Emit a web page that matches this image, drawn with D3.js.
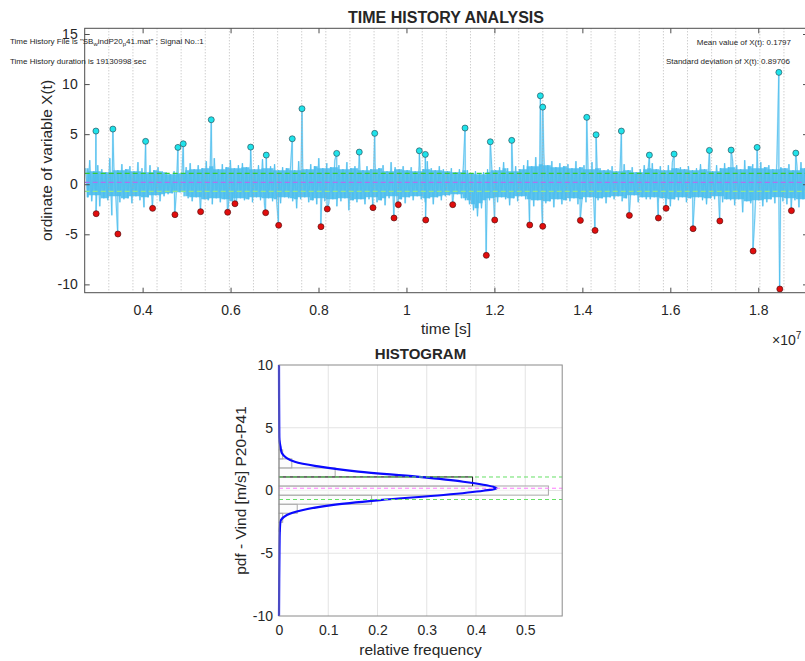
<!DOCTYPE html>
<html>
<head>
<meta charset="utf-8">
<script src="https://cdn.jsdelivr.net/npm/d3@7/dist/d3.min.js"></script>
<style>
  body { margin: 0; background: #fff; }
  svg text { font-family: "Liberation Sans", Arial, Helvetica, sans-serif; fill: #262626; }
</style>
</head>
<body>
<svg id="fig" width="805" height="661"></svg>
<script>
// ---------------- data (time in units of 1e7 s) ----------------
var tStart = 0.2683, tEnd = 1.9131;
var meanX = 0.1797, stdX = 0.89706;

// block boundaries (30 blocks)
var blockEdges = [0.2683, 0.3231, 0.3780, 0.4328, 0.4876, 0.5425, 0.5973, 0.6521, 0.7070, 0.7618,
                  0.8166, 0.8714, 0.9263, 0.9811, 1.0359, 1.0908, 1.1456, 1.2004, 1.2553, 1.3101,
                  1.3649, 1.4198, 1.4746, 1.5294, 1.5843, 1.6391, 1.6939, 1.7488, 1.8036, 1.8584, 1.9131];

// block maxima (cyan) and minima (red)
var maxT = [0.2938, 0.3324, 0.4068, 0.4803, 0.4924, 0.5561, 0.6457, 0.6812, 0.7403, 0.7624,
            0.8413, 0.8927, 0.9278, 1.0292, 1.0429, 1.1332, 1.1907, 1.2394, 1.3045, 1.3099,
            1.4100, 1.4312, 1.4887, 1.5524, 1.6086, 1.6889, 1.7383, 1.7974, 1.8468, 1.8854];
var maxV = [5.31, 5.51, 4.28, 3.68, 4.04, 6.44, 3.71, 2.91, 4.54, 7.54,
            3.08, 3.21, 5.08, 3.34, 2.98, 5.61, 4.24, 4.38, 8.83, 7.70,
            6.68, 4.94, 5.31, 2.91, 3.01, 3.38, 3.41, 3.68, 11.17, 3.11];
var minT = [0.2944, 0.3438, 0.4227, 0.4735, 0.5319, 0.5934, 0.6100, 0.6798, 0.7094, 0.8056,
            0.8199, 0.9239, 0.9717, 0.9814, 1.0438, 1.1052, 1.1816, 1.2007, 1.2803, 1.3099,
            1.3955, 1.4289, 1.5069, 1.5729, 1.5904, 1.6518, 1.7126, 1.7883, 1.8490, 1.8754];
var minV = [-2.94, -4.97, -2.41, -3.04, -2.74, -2.80, -1.95, -2.84, -4.10, -4.24,
            -2.47, -2.34, -3.37, -2.04, -3.57, -2.04, -7.10, -3.57, -4.07, -4.20,
            -3.61, -4.61, -3.11, -3.37, -2.41, -4.44, -3.67, -6.67, -10.46, -2.64];

// signal envelope (upper / lower swing per short slice)
var sigHi = [1.6, 2.4, 1.3, 1.9, 1.5, 1.2, 2.6, 1.7, 1.4, 2.0,
             1.5, 1.8, 1.3, 2.2, 1.6, 1.2, 1.9, 1.4, 1.7, 1.3,
             1.2, 1.0, 1.3, 1.1, 1.4, 1.7, 2.1, 1.5, 1.9, 1.6,
             2.3, 1.8, 2.6, 1.5, 2.0, 1.7, 2.4, 1.6, 1.9, 2.1,
             1.7, 2.2, 1.5, 1.9, 2.5, 1.6, 1.8, 2.0, 1.4, 1.7,
             1.6, 1.9, 1.4, 2.3, 1.7, 1.5, 2.0, 1.8, 2.6, 1.6,
             2.1, 1.7, 2.4, 1.9, 1.5, 2.2, 1.6, 1.8, 2.0, 1.4,
             1.8, 1.5, 2.1, 1.6, 1.9, 1.3, 2.2, 1.7, 1.5, 1.8,
             1.4, 1.7, 1.3, 1.9, 1.5, 2.3, 1.6, 1.4, 1.8, 1.5,
             1.3, 1.6, 1.2, 1.5, 1.9, 1.4, 1.1, 1.3, 1.0, 1.2,
             1.5, 2.0, 1.4, 1.7, 2.2, 1.6, 1.3, 1.8, 1.5, 1.9,
             2.4, 1.8, 2.7, 2.0, 3.1, 1.9, 2.3, 1.7, 2.1, 1.8,
             2.0, 1.6, 2.3, 1.7, 1.9, 1.5, 2.2, 1.8, 1.6, 1.4,
             1.5, 1.8, 1.3, 1.6, 2.0, 1.4, 1.7, 1.2, 1.5, 1.9,
             1.6, 2.1, 1.5, 1.8, 1.4, 1.9, 2.2, 1.6, 1.7, 1.5,
             1.8, 1.4, 1.6, 2.0, 1.5, 1.7, 1.3, 1.9, 1.6, 2.1,
             1.7, 2.3, 1.9, 1.5, 2.4, 1.8, 2.0, 1.6, 2.2, 1.7,
             1.9, 1.5, 2.1, 1.7, 1.6, 2.0, 1.4, 1.8, 2.2, 1.6];
var sigLo = [-1.3, -1.7, -1.1, -2.2, -1.4, -1.6, -3.1, -1.2, -1.8, -1.5,
             -1.4, -1.9, -1.2, -1.6, -2.3, -1.3, -1.5, -1.1, -1.7, -1.2,
             -1.0, -0.9, -1.1, -0.8, -1.2, -1.4, -1.7, -1.3, -2.2, -1.5,
             -1.6, -2.0, -1.4, -1.8, -1.5, -2.3, -1.7, -1.9, -1.4, -1.6,
             -1.5, -1.8, -1.3, -1.6, -2.1, -1.4, -1.7, -1.5, -1.9, -1.3,
             -1.4, -1.7, -2.4, -1.5, -1.3, -1.8, -1.6, -2.0, -1.4, -1.7,
             -1.9, -1.5, -2.2, -1.7, -1.4, -2.6, -1.6, -1.8, -1.5, -2.0,
             -1.5, -1.3, -1.8, -1.6, -2.1, -1.4, -1.2, -1.7, -1.5, -1.9,
             -1.3, -1.6, -1.2, -1.5, -1.8, -1.4, -2.0, -1.3, -1.6, -1.2,
             -1.1, -1.3, -1.0, -1.4, -1.6, -2.0, -2.6, -3.2, -2.4, -1.9,
             -1.6, -1.4, -1.8, -1.3, -1.5, -2.1, -1.4, -1.7, -1.2, -1.5,
             -1.8, -2.2, -1.6, -2.5, -1.9, -1.7, -2.3, -1.5, -2.0, -1.6,
             -1.7, -1.4, -2.0, -1.5, -1.8, -1.3, -2.2, -1.6, -1.4, -1.9,
             -1.3, -1.5, -1.2, -1.7, -1.4, -1.6, -1.1, -1.8, -1.3, -1.5,
             -1.5, -1.3, -1.9, -1.4, -1.7, -2.2, -1.5, -1.6, -1.3, -1.8,
             -1.4, -1.7, -1.3, -1.6, -2.0, -1.4, -1.5, -1.2, -1.8, -1.5,
             -1.6, -2.1, -1.5, -2.8, -1.7, -1.9, -3.4, -1.6, -2.2, -1.8,
             -1.5, -1.9, -1.3, -1.7, -2.0, -1.4, -1.6, -2.3, -1.5, -1.8];

// histogram (bins in signal units, pdf-normalised heights)
var binLo  = [-3.25, -2.53, -1.81, -1.09, -0.37, 0.36, 1.08, 1.80, 2.52, 3.24];
var binHi  = [-2.53, -1.81, -1.09, -0.37, 0.36, 1.08, 1.80, 2.52, 3.24, 3.96];
var binPdf = [0.003, 0.0075, 0.037, 0.188, 0.547, 0.393, 0.114, 0.026, 0.0075, 0.002];

// fitted pdf curve
var pdfY = [10, 5, 4.0, 3.5, 2.96, 2.6, 2.29, 1.90, 1.50, 1.10, 0.70, 0.30, 0.17, -0.02, -0.36, -0.76, -1.16, -1.55, -1.95, -2.35, -2.9, -4.5, -10];
var pdfV = [0, 0.0005, 0.001, 0.003, 0.006, 0.015, 0.032, 0.083, 0.161, 0.280, 0.374, 0.435, 0.442, 0.415, 0.334, 0.205, 0.107, 0.049, 0.016, 0.004, 0.002, 0.001, 0];

var xTicks = [0.4, 0.6, 0.8, 1.0, 1.2, 1.4, 1.6, 1.8];
var yTicks = [-10, -5, 0, 5, 10, 15];
var hxTicks = [0, 0.1, 0.2, 0.3, 0.4, 0.5];
var hyTicks = [-10, -5, 0, 5, 10];

// ---------------- helpers ----------------
var svg = d3.select("#fig");
var fmt = function(d) { return String(+d.toFixed(2)); }; // plain hyphen minus like matlab
var axisCol = "#4d4d4d";
var sigCol = "#4dbeee";

// ================= TIME HISTORY =================
var tm = {left: 84.7, right: 808, top: 28.3, bottom: 292.7};
var x = d3.scaleLinear().domain([tStart, tEnd]).range([tm.left, tm.right]);
var y = d3.scaleLinear().domain([-10.83, 15.57]).range([tm.bottom, tm.top]);

svg.append("clipPath").attr("id", "clipTop")
  .append("rect").attr("x", tm.left).attr("y", tm.top)
  .attr("width", tm.right - tm.left).attr("height", tm.bottom - tm.top);

var gTop = svg.append("g").attr("clip-path", "url(#clipTop)");

var dt = (tEnd - tStart) / sigHi.length;

// dense core of the trace: the swing that neighbouring slices share
var core = sigHi.map(function(h, i) {
  var a = Math.max(0, i - 1), b = Math.min(sigHi.length, i + 2);
  return {t: tStart + (i + 0.5) * dt,
          hi: d3.min(sigHi.slice(a, b)),
          lo: d3.max(sigLo.slice(a, b))};
});
gTop.append("path").datum(core)
  .attr("d", d3.area().curve(d3.curveStep)
    .x(function(d) { return x(d.t); })
    .y0(function(d) { return y(d.lo); })
    .y1(function(d) { return y(d.hi); }))
  .attr("fill", sigCol).attr("fill-opacity", 0.9);

// signal trace: zigzag through the envelope with the block extremes inserted
var pts = [];
sigHi.forEach(function(h, i) {
  pts.push([tStart + (i + 0.25) * dt, h]);
  pts.push([tStart + (i + 0.75) * dt, sigLo[i]]);
});
maxT.forEach(function(t, i) { pts.push([t, maxV[i]]); });
minT.forEach(function(t, i) { pts.push([t - 0.0004, minV[i]]); });
pts.sort(function(a, b) { return a[0] - b[0]; });

var line = d3.line().x(function(d) { return x(d[0]); }).y(function(d) { return y(d[1]); });
gTop.append("path").datum(pts)
  .attr("d", line).attr("fill", "none")
  .attr("stroke", sigCol).attr("stroke-width", 1.8).attr("stroke-opacity", 0.3);
gTop.append("path").datum(pts)
  .attr("d", line).attr("fill", "none")
  .attr("stroke", sigCol).attr("stroke-width", 0.8);

// block boundaries
gTop.selectAll(".blk").data(blockEdges.slice(1, -1)).enter().append("line")
  .attr("x1", function(d) { return x(d); }).attr("x2", function(d) { return x(d); })
  .attr("y1", tm.top).attr("y2", tm.bottom)
  .attr("stroke", "#a8a8a8").attr("stroke-width", 0.8).attr("stroke-dasharray", "1,2");

// mean and +/- std lines
var hl = [
  {v: meanX + stdX, c: "#33cc33"},
  {v: meanX, c: "#b070f0"},
  {v: meanX - stdX, c: "#90e890"}
];
gTop.selectAll(".hl").data(hl).enter().append("line")
  .attr("x1", tm.left).attr("x2", tm.right)
  .attr("y1", function(d) { return y(d.v); }).attr("y2", function(d) { return y(d.v); })
  .attr("stroke", function(d) { return d.c; }).attr("stroke-width", 1.2)
  .attr("stroke-dasharray", "5,3");

// extremes
gTop.selectAll(".mx").data(maxT).enter().append("circle")
  .attr("cx", function(d) { return x(d); })
  .attr("cy", function(d, i) { return y(maxV[i]); })
  .attr("r", 3).attr("fill", "#1fe3ea").attr("stroke", "#2b5560").attr("stroke-width", 0.7);
gTop.selectAll(".mn").data(minT).enter().append("circle")
  .attr("cx", function(d) { return x(d); })
  .attr("cy", function(d, i) { return y(minV[i]); })
  .attr("r", 3).attr("fill", "#e20d0d").attr("stroke", "#5a1010").attr("stroke-width", 0.7);

// axes: box + inward ticks
svg.append("rect").attr("x", tm.left).attr("y", tm.top)
  .attr("width", tm.right - tm.left).attr("height", tm.bottom - tm.top)
  .attr("fill", "none").attr("stroke", axisCol).attr("stroke-width", 1);

var gxb = svg.append("g").attr("transform", "translate(0," + tm.bottom + ")")
  .call(d3.axisBottom(x).tickValues(xTicks).tickFormat(fmt).tickSize(-5).tickPadding(12));
var gxt = svg.append("g").attr("transform", "translate(0," + tm.top + ")")
  .call(d3.axisTop(x).tickValues(xTicks).tickFormat("").tickSize(-5));
var gyl = svg.append("g").attr("transform", "translate(" + tm.left + ",0)")
  .call(d3.axisLeft(y).tickValues(yTicks).tickFormat(fmt).tickSize(-5).tickPadding(7));
var gyr = svg.append("g").attr("transform", "translate(" + tm.right + ",0)")
  .call(d3.axisRight(y).tickValues(yTicks).tickFormat("").tickSize(-5));
[gxb, gxt, gyl, gyr].forEach(function(g) {
  g.select(".domain").remove();
  g.selectAll(".tick line").attr("stroke", axisCol);
  g.selectAll(".tick text").attr("font-size", 14).attr("fill", "#262626")
    .attr("font-family", "Liberation Sans, Arial, sans-serif");
});

svg.append("text").attr("x", 446).attr("y", 23).attr("text-anchor", "middle")
  .attr("font-size", 16).attr("font-weight", "bold").attr("fill", "#000")
  .text("TIME HISTORY ANALYSIS");
svg.append("text").attr("x", 446).attr("y", 334).attr("text-anchor", "middle")
  .attr("font-size", 15.5).text("time [s]");
svg.append("text")
  .attr("transform", "translate(52," + ((tm.top + tm.bottom) / 2) + ") rotate(-90)")
  .attr("text-anchor", "middle").attr("font-size", 15.5)
  .text("ordinate of variable X(t)");
var ex = svg.append("text").attr("x", 772).attr("y", 345).attr("font-size", 14).attr("fill", "#555");
ex.append("tspan").text("\u00d710");
ex.append("tspan").attr("dy", -6).attr("font-size", 10).text("7");

// annotations
var a1 = svg.append("text").attr("x", 10).attr("y", 44).attr("font-size", 8);
a1.append("tspan").text("Time History File is \"SB");
a1.append("tspan").attr("dy", 2).attr("font-size", 6).text("w");
a1.append("tspan").attr("dy", -2).text("indP20");
a1.append("tspan").attr("dy", 2).attr("font-size", 6).text("p");
a1.append("tspan").attr("dy", -2).text("41.mat\" ; Signal No.:1");
svg.append("text").attr("x", 10).attr("y", 64).attr("font-size", 8)
  .text("Time History duration is 19130998 sec");
svg.append("text").attr("x", 791).attr("y", 45).attr("font-size", 8).attr("text-anchor", "end")
  .text("Mean value of X(t): 0.1797");
svg.append("text").attr("x", 790).attr("y", 64).attr("font-size", 8).attr("text-anchor", "end")
  .text("Standard deviation of X(t): 0.89706");

// ================= HISTOGRAM =================
var hm = {left: 279, right: 562.2, top: 365, bottom: 616};
var hx = d3.scaleLinear().domain([0, 0.575]).range([hm.left, hm.right]);
var hy = d3.scaleLinear().domain([-10, 10]).range([hm.bottom, hm.top]);
var hist = svg.append("g");

// grid
hist.selectAll(".gx").data(hxTicks.slice(1)).enter().append("line")
  .attr("x1", function(d) { return hx(d); }).attr("x2", function(d) { return hx(d); })
  .attr("y1", hm.top).attr("y2", hm.bottom).attr("stroke", "#e3e3e3");
hist.selectAll(".gy").data(hyTicks.slice(1, -1)).enter().append("line")
  .attr("y1", function(d) { return hy(d); }).attr("y2", function(d) { return hy(d); })
  .attr("x1", hm.left).attr("x2", hm.right).attr("stroke", "#e3e3e3");

// bars
hist.selectAll(".bar").data(binPdf).enter().append("rect")
  .attr("x", hx(0))
  .attr("y", function(d, i) { return hy(binHi[i]); })
  .attr("width", function(d) { return hx(d) - hx(0); })
  .attr("height", function(d, i) { return hy(binLo[i]) - hy(binHi[i]); })
  .attr("fill", "#fafafa").attr("fill-opacity", 0.6)
  .attr("stroke", "#a8a8a8").attr("stroke-width", 1);
// the bin just above the mean is outlined darker on its top and right
var kDark = 5;
hist.append("path")
  .attr("d", "M" + hx(0) + "," + hy(binHi[kDark]) + "H" + hx(binPdf[kDark]) + "V" + hy(binLo[kDark]))
  .attr("fill", "none").attr("stroke", "#222").attr("stroke-width", 1);

// pdf curve
hist.append("path")
  .datum(pdfY.map(function(v, i) { return [pdfV[i], v]; }))
  .attr("d", d3.line().curve(d3.curveCatmullRom.alpha(0.5))
    .x(function(d) { return hx(d[0]); }).y(function(d) { return hy(d[1]); }))
  .attr("fill", "none").attr("stroke", "#0a0aff").attr("stroke-width", 2.2);

// mean / std lines
var hhl = [
  {v: meanX + stdX, c: "#66e066"},
  {v: meanX, c: "#ff7cff"},
  {v: meanX - stdX, c: "#66e066"}
];
hist.selectAll(".hl").data(hhl).enter().append("line")
  .attr("x1", hm.left).attr("x2", hm.right)
  .attr("y1", function(d) { return hy(d.v); }).attr("y2", function(d) { return hy(d.v); })
  .attr("stroke", function(d) { return d.c; }).attr("stroke-width", 1)
  .attr("stroke-dasharray", "4,3");

svg.append("rect").attr("x", hm.left).attr("y", hm.top)
  .attr("width", hm.right - hm.left).attr("height", hm.bottom - hm.top)
  .attr("fill", "none").attr("stroke", "#8a8a8a").attr("stroke-width", 1);

var hgx = svg.append("g").attr("transform", "translate(0," + hm.bottom + ")")
  .call(d3.axisBottom(hx).tickValues(hxTicks).tickFormat(fmt).tickSize(0).tickPadding(9));
var hgy = svg.append("g").attr("transform", "translate(" + hm.left + ",0)")
  .call(d3.axisLeft(hy).tickValues(hyTicks).tickFormat(fmt).tickSize(0).tickPadding(6));
[hgx, hgy].forEach(function(g) {
  g.select(".domain").remove();
  g.selectAll(".tick text").attr("font-size", 14).attr("fill", "#262626")
    .attr("font-family", "Liberation Sans, Arial, sans-serif");
});

svg.append("text").attr("x", 420.5).attr("y", 358.5).attr("text-anchor", "middle")
  .attr("font-size", 15).attr("font-weight", "bold").attr("fill", "#000")
  .text("HISTOGRAM");
svg.append("text").attr("x", 420.5).attr("y", 655).attr("text-anchor", "middle")
  .attr("font-size", 15.5).text("relative frequency");
svg.append("text")
  .attr("transform", "translate(246," + ((hm.top + hm.bottom) / 2) + ") rotate(-90)")
  .attr("text-anchor", "middle").attr("font-size", 15.5)
  .text("pdf - Vind [m/s] P20-P41");
</script>
</body>
</html>
